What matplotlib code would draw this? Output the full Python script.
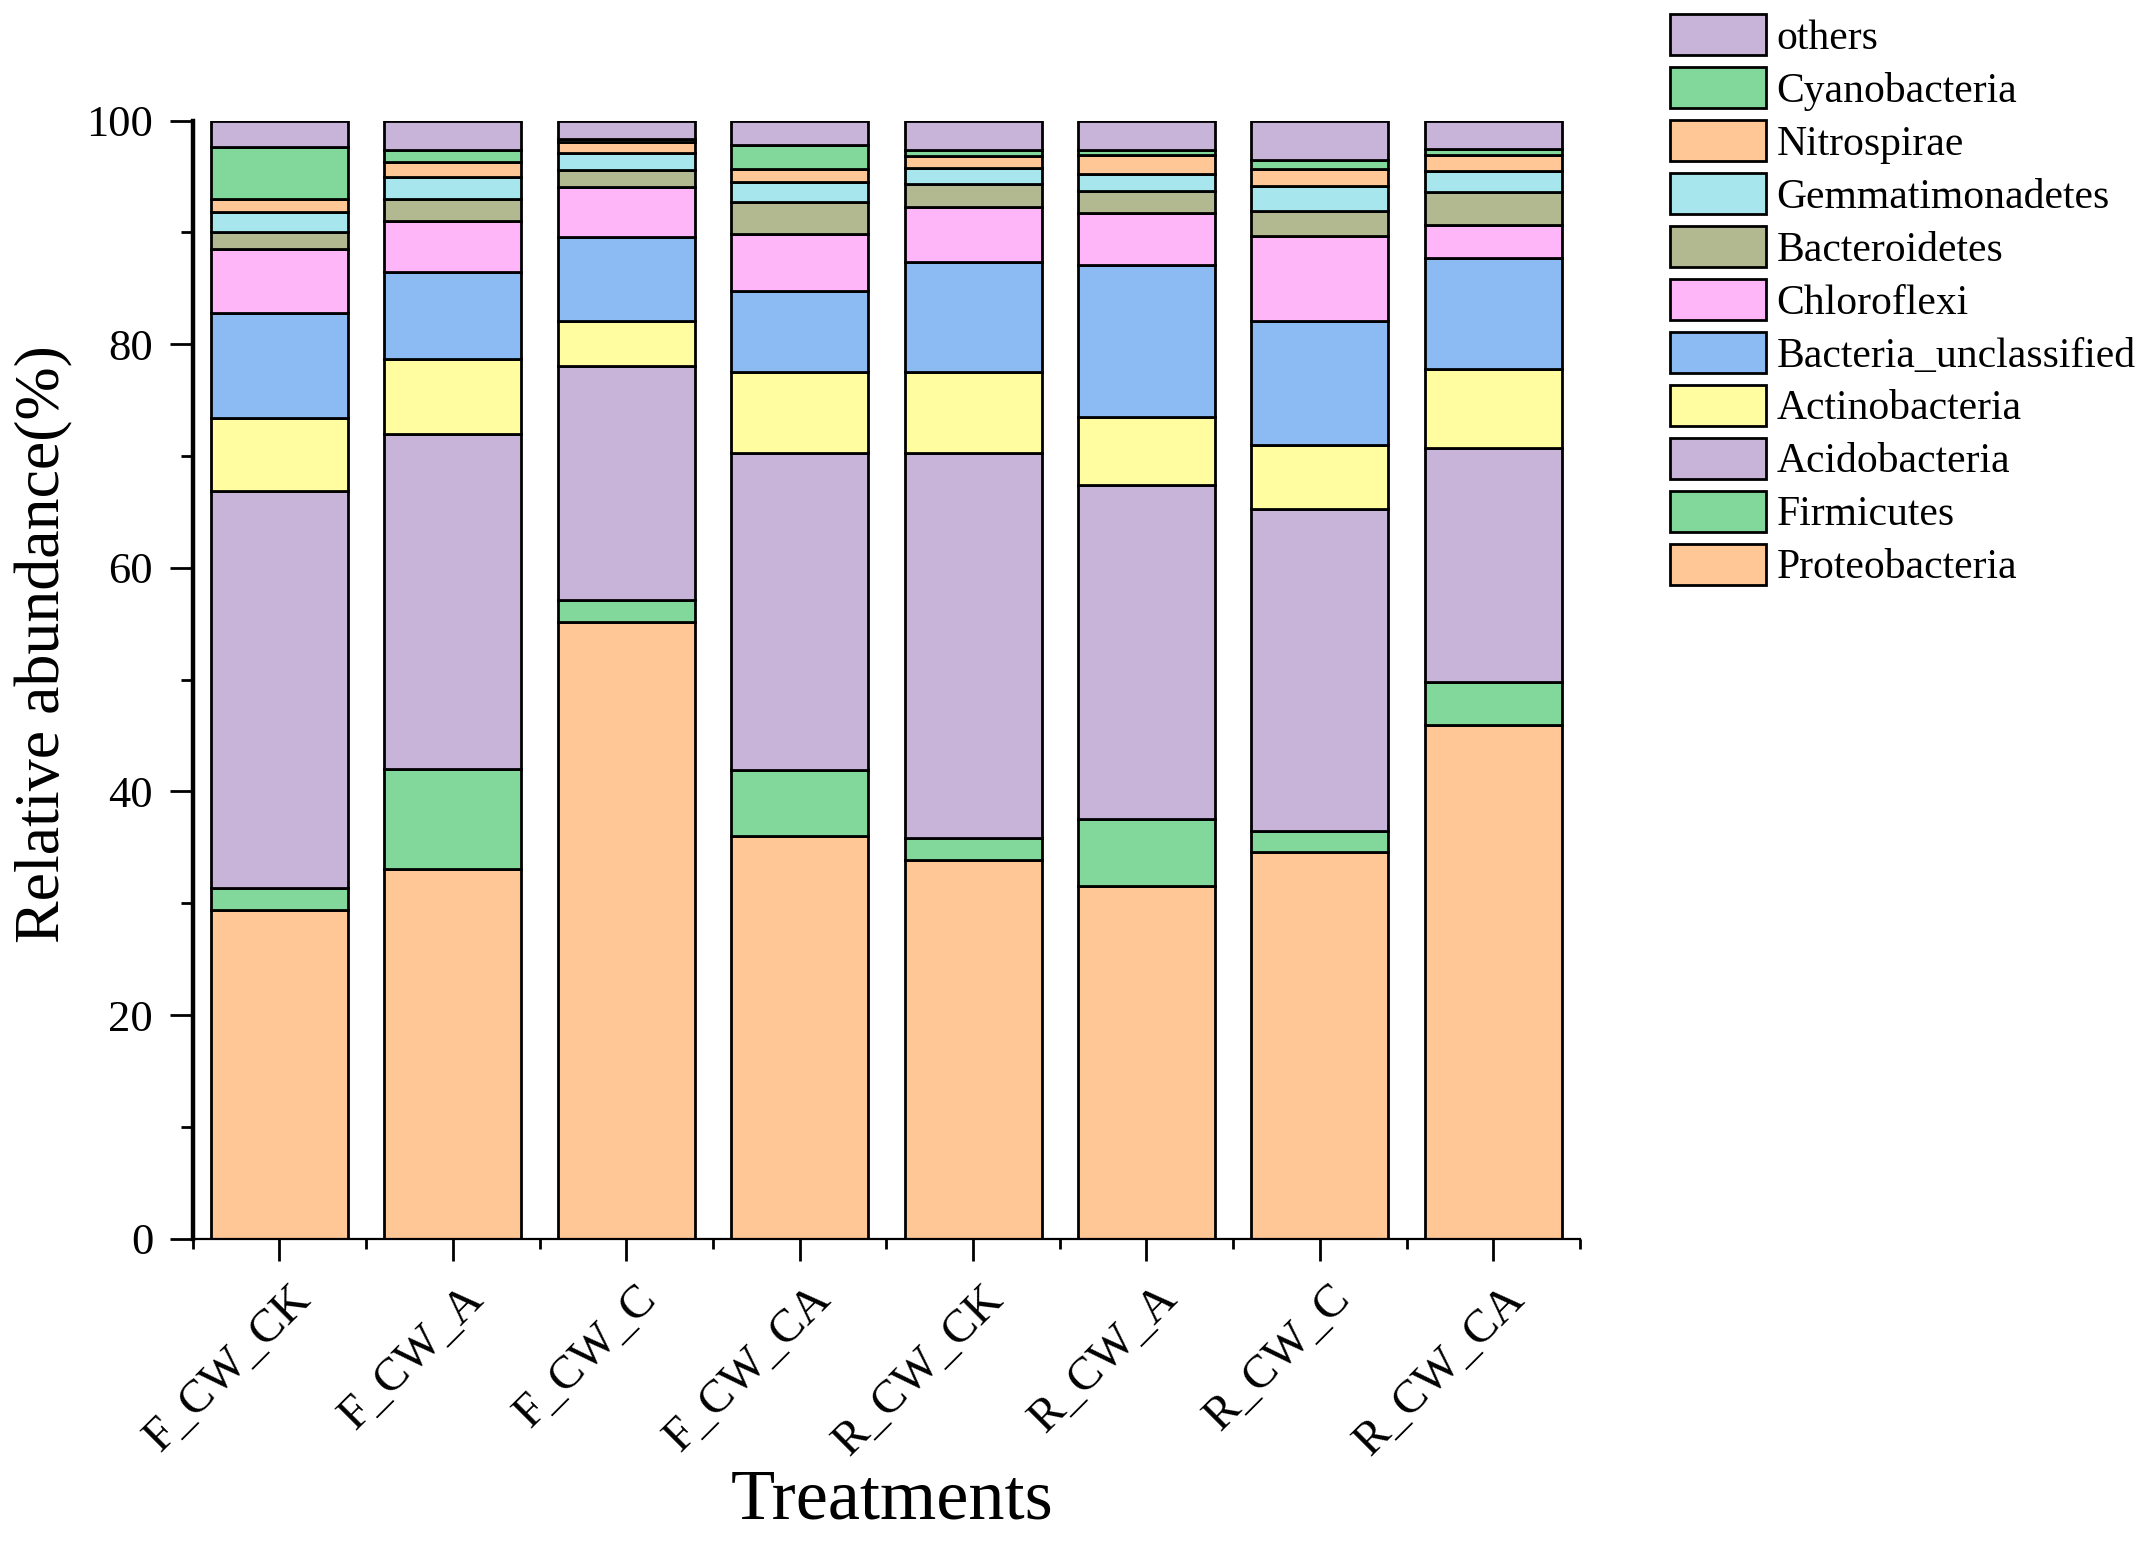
import matplotlib
matplotlib.use("Agg")
import matplotlib.pyplot as plt
import matplotlib.transforms as mtransforms
from matplotlib.ticker import MultipleLocator, FixedLocator
import numpy as np

plt.rcParams['font.family'] = ['Liberation Serif', 'DejaVu Serif']

treatments = ["F_CW_CK", "F_CW_A", "F_CW_C", "F_CW_CA",
              "R_CW_CK", "R_CW_A", "R_CW_C", "R_CW_CA"]

# stacking order: bottom -> top
phyla = ["Proteobacteria", "Firmicutes", "Acidobacteria", "Actinobacteria",
         "Bacteria_unclassified", "Chloroflexi", "Bacteroidetes",
         "Gemmatimonadetes", "Nitrospirae", "Cyanobacteria", "others"]

proteobacteria = [29.4, 33.1, 55.2, 36.0, 33.9, 31.5, 34.6, 45.9]
firmicutes = [2.0, 8.9, 1.9, 5.9, 1.9, 6.0, 1.9, 3.9]
acidobacteria = [35.5, 30.0, 21.0, 28.4, 34.5, 29.9, 28.8, 20.9]
actinobacteria = [6.5, 6.7, 4.0, 7.2, 7.2, 6.1, 5.7, 7.1]
bacteria_unclassified = [9.4, 7.8, 7.5, 7.3, 9.9, 13.6, 11.1, 9.9]
chloroflexi = [5.7, 4.5, 4.5, 5.1, 4.9, 4.6, 7.6, 3.0]
bacteroidetes = [1.5, 2.0, 1.5, 2.8, 2.0, 2.0, 2.2, 2.9]
gemmatimonadetes = [1.8, 2.0, 1.5, 1.8, 1.5, 1.5, 2.3, 1.9]
nitrospirae = [1.2, 1.3, 1.0, 1.2, 1.0, 1.7, 1.5, 1.4]
cyanobacteria = [4.6, 1.1, 0.3, 2.1, 0.6, 0.5, 0.8, 0.6]
others = [2.4, 2.6, 1.6, 2.2, 2.6, 2.6, 3.5, 2.5]

series = [proteobacteria, firmicutes, acidobacteria, actinobacteria,
          bacteria_unclassified, chloroflexi, bacteroidetes,
          gemmatimonadetes, nitrospirae, cyanobacteria, others]

colors = ["#FFC696", "#82D89B", "#C8B4D8", "#FFFDA0", "#8CBAF2", "#FFB6F8",
          "#B2B890", "#A6E6EC", "#FFC696", "#82D89B", "#C8B4D8"]

fig = plt.figure(figsize=(21.51, 15.41), dpi=100)
ax = fig.add_axes([0.0896, 0.1962, 0.6449, 0.7255])

x = np.arange(len(treatments))
bottom = np.zeros(len(treatments))
handles = []
for name, vals, col in zip(phyla, series, colors):
    vals = np.array(vals)
    b = ax.bar(x, vals, width=0.79, bottom=bottom, color=col,
               edgecolor="black", linewidth=2.0, label=name)
    handles.append(b)
    bottom += vals

ax.set_xlim(-0.5, 7.5)
ax.set_ylim(0, 100)

for s in ["top", "right"]:
    ax.spines[s].set_visible(False)
ax.spines["left"].set_linewidth(3.2)
ax.spines["bottom"].set_linewidth(1.6)

ax.yaxis.set_major_locator(MultipleLocator(20))
ax.yaxis.set_minor_locator(MultipleLocator(10))
ax.set_xticks(x)
ax.xaxis.set_minor_locator(FixedLocator(np.arange(-0.5, 8.0, 1.0)))

ax.tick_params(axis="y", which="major", direction="out", length=16.5, width=2.0,
               labelsize=32, pad=12)
ax.tick_params(axis="y", which="minor", direction="out", length=8.6, width=2.0)
ax.tick_params(axis="x", which="major", direction="out", length=16, width=2.0,
               labelsize=34, pad=12)
ax.tick_params(axis="x", which="minor", direction="out", length=7.2, width=2.0)

ax.set_xticklabels(treatments, rotation=45, ha="right", va="top",
                   rotation_mode="anchor")
offset = mtransforms.ScaledTranslation(7 / 72, 0, fig.dpi_scale_trans)
for lab in ax.get_xticklabels():
    lab.set_transform(lab.get_transform() + offset)

ax.set_xlabel("Treatments", fontsize=52, labelpad=0)
ax.xaxis.set_label_coords(0.504, -0.25)
ax.xaxis.label.set_va("baseline")
ax.set_ylabel("Relative abundance(%)", fontsize=46)
ax.yaxis.set_label_coords(-0.086, 0.532)

fig.legend(handles[::-1], phyla[::-1], loc="upper left",
           bbox_to_anchor=(1670 / 2151, 1 - 14 / 1541),
           frameon=False, fontsize=30, handlelength=2.3, handleheight=1.15,
           labelspacing=0.22, handletextpad=0.26, borderpad=0,
           borderaxespad=0)

fig.savefig("out.png", dpi=100)
